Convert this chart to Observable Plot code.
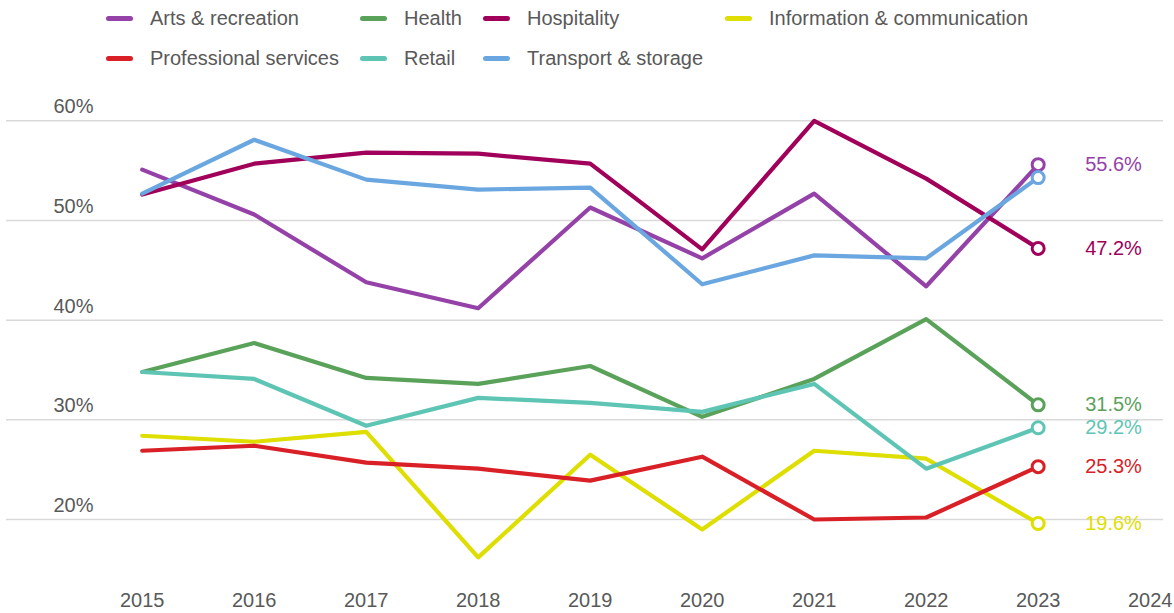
<!DOCTYPE html>
<html>
<head>
<meta charset="utf-8">
<script src="https://cdn.jsdelivr.net/npm/d3@7"></script>
<script src="https://cdn.jsdelivr.net/npm/@observablehq/plot@0.6"></script>
<style>
  html, body { margin: 0; padding: 0; background: #fff; }
  #wrap { position: relative; width: 1174px; height: 613px; font-family: "Liberation Sans", Arial, sans-serif; color: #595959; }
  #legend { position: relative; height: 80px; width: 1174px; }
  .item { position: absolute; display: flex; align-items: center; font-size: 20px; white-space: nowrap; }
  .sw { width: 27px; height: 5px; border-radius: 3px; margin-right: 17px; }
  #chart svg { display: block; }
</style>
</head>
<body>
<div id="wrap">
  <div id="legend"></div>
  <div id="chart"></div>
</div>
<script>
const years = [2015, 2016, 2017, 2018, 2019, 2020, 2021, 2022, 2023];
const xTicks = [2015, 2016, 2017, 2018, 2019, 2020, 2021, 2022, 2023, 2024];
const yTicks = [20, 30, 40, 50, 60];

const seriesNames = ["Arts & recreation", "Health", "Hospitality", "Information & communication", "Professional services", "Retail", "Transport & storage"];
const seriesColors = ["#9542a8", "#5aa25a", "#a0005a", "#dede00", "#d92027", "#5ec5b5", "#6aa7e0"];
// series whose final value is labelled at the right
const labelledSeries = ["Arts & recreation", "Health", "Hospitality", "Information & communication", "Professional services", "Retail"];

const artsRecreation = [55.1, 50.6, 43.8, 41.2, 51.3, 46.2, 52.7, 43.4, 55.6];
const health = [34.8, 37.7, 34.2, 33.6, 35.4, 30.3, 34.1, 40.1, 31.5];
const hospitality = [52.6, 55.7, 56.8, 56.7, 55.7, 47.1, 60.0, 54.2, 47.2];
const infoComm = [28.4, 27.8, 28.8, 16.2, 26.5, 19.0, 26.9, 26.1, 19.6];
const professional = [26.9, 27.4, 25.7, 25.1, 23.9, 26.3, 20.0, 20.2, 25.3];
const retail = [34.8, 34.1, 29.4, 32.2, 31.7, 30.8, 33.6, 25.1, 29.2];
const transport = [52.7, 58.1, 54.1, 53.1, 53.3, 43.6, 46.5, 46.2, 54.3];

const seriesValues = [artsRecreation, health, hospitality, infoComm, professional, retail, transport];

const data = [];
seriesNames.forEach((s, i) => {
  seriesValues[i].forEach((v, j) => data.push({series: s, year: years[j], value: v}));
});
const last = data.filter(d => d.year === 2023);
const lastLabelled = last.filter(d => labelledSeries.includes(d.series));

// Legend (HTML, above the SVG)
const legendPos = [
  [106, 18], [360, 18], [483, 18], [725, 18],
  [106, 58], [360, 58], [483, 58]
];
const legend = document.getElementById("legend");
seriesNames.forEach((s, i) => {
  const it = document.createElement("div");
  it.className = "item";
  it.style.left = legendPos[i][0] + "px";
  it.style.top = (legendPos[i][1] - 12) + "px";
  it.style.height = "24px";
  const sw = document.createElement("span");
  sw.className = "sw";
  sw.style.background = seriesColors[i];
  const tx = document.createElement("span");
  tx.textContent = s;
  it.appendChild(sw);
  it.appendChild(tx);
  legend.appendChild(it);
});

const chart = Plot.plot({
  width: 1174,
  height: 533,
  marginTop: 40.3,
  marginBottom: 94,
  marginLeft: 6,
  marginRight: 11,
  style: {fontFamily: "'Liberation Sans', Arial, sans-serif", fontSize: "20px", color: "#595959", background: "white"},
  x: {domain: [2013.788, 2024.119], label: null},
  y: {domain: [20, 60], label: null},
  color: {domain: seriesNames, range: seriesColors},
  marks: [
    Plot.gridY(yTicks, {stroke: "#d9d9d9", strokeOpacity: 1, strokeWidth: 1.5}),
    Plot.axisY({ticks: yTicks, tickSize: 0, tickPadding: 0, dx: 87, dy: -14, textAnchor: "end", tickFormat: d => d + "%", label: null, fontSize: 20}),
    Plot.axisX({ticks: xTicks, tickSize: 0, tickPadding: 73, tickFormat: d => String(d), label: null, fontSize: 20}),
    Plot.line(data, {x: "year", y: "value", z: "series", stroke: "series", strokeWidth: 4.2, strokeLinejoin: "round", strokeLinecap: "round"}),
    Plot.dot(last, {x: "year", y: "value", stroke: "series", fill: "white", r: 6, strokeWidth: 3}),
    Plot.text(lastLabelled, {x: "year", y: "value", text: d => d.value.toFixed(1) + "%", fill: "series", dx: 47, textAnchor: "start", fontSize: 20})
  ]
});
document.getElementById("chart").appendChild(chart);
</script>
</body>
</html>
